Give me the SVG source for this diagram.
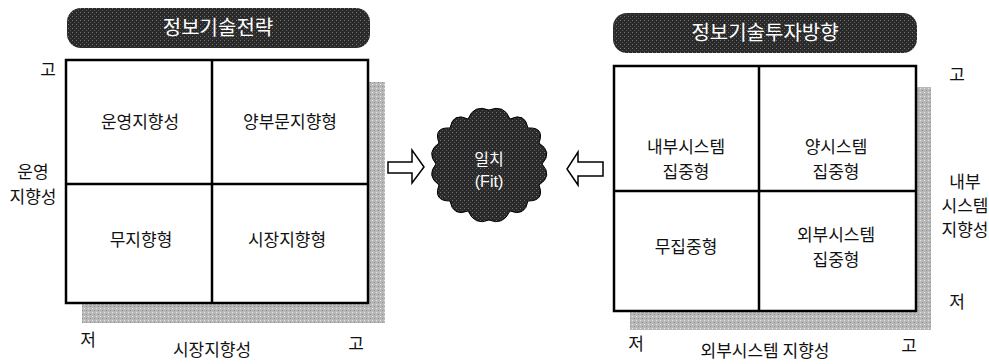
<svg xmlns="http://www.w3.org/2000/svg" width="989" height="364" viewBox="0 0 989 364">
<defs>
<pattern id="dots" width="4" height="4" patternUnits="userSpaceOnUse">
<rect width="4" height="4" fill="#b8b8b8"/>
<rect width="1" height="1" fill="#e8e8e8"/>
<rect x="2" y="2" width="1" height="1" fill="#888"/>
</pattern>
<pattern id="dark" width="4" height="4" patternUnits="userSpaceOnUse">
<rect width="4" height="4" fill="#2a2a2a"/>
<rect width="1" height="1" fill="#777"/>
<rect x="2" y="2" width="1" height="1" fill="#555"/>
</pattern>
</defs>
<style>
text{font-family:"Noto Sans CJK KR","Noto Sans",sans-serif;fill:#111;}
.cell{font-size:17px;text-anchor:middle;}
.ax{font-size:17px;text-anchor:middle;}
.title{font-size:20px;fill:#fff;text-anchor:middle;}
.box{fill:#fff;stroke:#000;stroke-width:2.5;}
.ln{stroke:#000;stroke-width:2.5;}
.shadow{fill:url(#dots);}
.pill{fill:url(#dark);}
.arrow{fill:#fff;stroke:#000;stroke-width:1.5;stroke-linejoin:miter;}
</style>

<g id="left-title">
<rect class="pill" x="67" y="8" width="303" height="40" rx="14"/>
<text class="title" x="218" y="35">정보기술전략</text>
</g>

<g id="left-matrix">
<rect class="shadow" x="368" y="82" width="17" height="241"/>
<rect class="shadow" x="82" y="303" width="303" height="20"/>
<rect class="box" x="66" y="60" width="302" height="243"/>
<line class="ln" x1="212" y1="60" x2="212" y2="303"/>
<line class="ln" x1="66" y1="184" x2="368" y2="184"/>
<text class="cell" x="140" y="128">운영지향성</text>
<text class="cell" x="290" y="128">양부문지향형</text>
<text class="cell" x="141" y="246">무지향형</text>
<text class="cell" x="287" y="246">시장지향형</text>
<text class="ax" x="48" y="76">고</text>
<text class="ax" x="33" y="178">운영</text>
<text class="ax" x="33" y="203">지향성</text>
<text class="ax" x="88" y="346">저</text>
<text class="ax" x="212" y="356">시장지향성</text>
<text class="ax" x="356" y="350">고</text>
</g>

<g id="right-title">
<rect class="pill" x="613" y="13" width="304" height="40" rx="14"/>
<text class="title" x="765" y="40">정보기술투자방향</text>
</g>

<g id="right-matrix">
<rect class="shadow" x="916" y="87" width="15" height="243"/>
<rect class="shadow" x="630" y="311" width="301" height="19"/>
<rect class="box" x="614" y="66" width="302" height="245"/>
<line class="ln" x1="759" y1="66" x2="759" y2="311"/>
<line class="ln" x1="614" y1="191" x2="916" y2="191"/>
<text class="cell" x="686" y="153">내부시스템</text>
<text class="cell" x="686" y="178">집중형</text>
<text class="cell" x="836" y="153">양시스템</text>
<text class="cell" x="836" y="178">집중형</text>
<text class="cell" x="686" y="253">무집중형</text>
<text class="cell" x="836" y="241">외부시스템</text>
<text class="cell" x="836" y="266">집중형</text>
<text class="ax" x="957" y="81">고</text>
<text class="ax" x="965" y="188">내부</text>
<text class="ax" x="965" y="212">시스템</text>
<text class="ax" x="965" y="236">지향성</text>
<text class="ax" x="957" y="308">저</text>
<text class="ax" x="636" y="350">저</text>
<text class="ax" x="765" y="357">외부시스템 지향성</text>
<text class="ax" x="909" y="352">고</text>
</g>

<g id="fit">
<path class="pill" d="M489,110 Q504,104 510,119 Q525,112 528,128 Q545,127 539,143 Q553,152 542,164 Q553,176 539,185 Q545,201 528,201 Q525,217 510,211 Q503,226 489,220 Q475,226 468,211 Q453,217 450,201 Q433,201 439,185 Q426,176 436,164 Q426,152 439,143 Q433,127 450,128 Q453,112 468,119 Q474,104 489,110 Z" fill="#222" stroke="#000" stroke-width="1"/>
<text x="489" y="165" style="font-size:16px;fill:#fff;text-anchor:middle;">일치</text>
<text x="489" y="187" style="font-size:16px;fill:#fff;text-anchor:middle;font-family:'Liberation Sans',sans-serif;">(Fit)</text>
</g>

<g id="connectors">
<path class="arrow" d="M388,162 L412,162 L412,150 L424,167 L412,183 L412,173 L388,173 Z"/>
<path class="arrow" d="M603,162 L578,162 L578,152 L567,169 L578,185 L578,176 L603,176 Z"/>
</g>
</svg>
